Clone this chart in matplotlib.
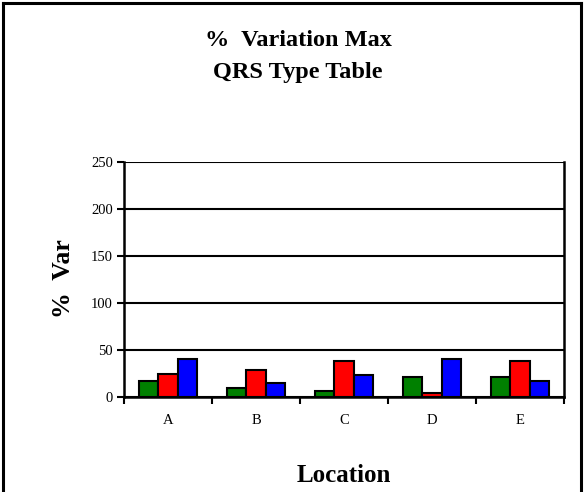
import matplotlib
matplotlib.use("Agg")
import matplotlib.pyplot as plt
from matplotlib.lines import Line2D
import numpy as np

plt.rcParams['font.family'] = ['Liberation Serif', 'DejaVu Serif']

locations = ["A", "B", "C", "D", "E"]
series_green = [17, 10, 6, 21, 21]
series_red = [25, 29, 38, 4, 38]
series_blue = [40, 14.5, 23, 40, 17]
y_ticks = [0, 50, 100, 150, 200, 250]

W, H = 584, 492
fig = plt.figure(figsize=(W / 100, H / 100), dpi=100)

# chart frame (open at the bottom edge)
for xs, ys in [([3, 3], [0, H - 3]), ([3, W - 3], [H - 3, H - 3]), ([W - 3, W - 3], [H - 3, 0])]:
    fig.add_artist(Line2D(np.array(xs) / W, np.array(ys) / H, color='black', lw=2.2,
                          transform=fig.transFigure))

left, right, bottom, top = 124, 564, 397, 162
ax = fig.add_axes([left / W, 1 - bottom / H, (right - left) / W, (bottom - top) / H])

x = np.arange(len(locations))
bw = 1 / 4.5
colors = ['#008000', '#ff0000', '#0000ff']
for i, (vals, c) in enumerate(zip([series_green, series_red, series_blue], colors)):
    ax.bar(x + (i - 1) * bw, vals, width=bw, color=c, edgecolor='black', linewidth=1.5, zorder=3)

ax.set_xlim(-0.5, len(locations) - 0.5)
ax.set_ylim(0, 250)
ax.set_yticks(y_ticks)
ax.set_yticklabels([str(t) for t in y_ticks], fontsize=10.5)
ax.yaxis.grid(True, color='black', lw=1.5, zorder=1)

ax.set_xticks(x)
ax.set_xticklabels(locations, fontsize=10.5)
ax.set_xticks(np.arange(-0.5, len(locations)), minor=True)
ax.tick_params(axis='x', which='major', length=0, pad=12)
ax.tick_params(axis='x', which='minor', length=5, width=1.5, direction='out')
ax.tick_params(axis='y', length=5, width=1.5, direction='out', pad=3)

for s in ['left', 'bottom', 'right']:
    ax.spines[s].set_linewidth(1.8)
ax.spines['top'].set_visible(False)

fig.text(298 / W, 1 - 46 / H, "%  Variation Max", ha='center', va='baseline',
         fontsize=17.5, fontweight='bold')
fig.text(298 / W, 1 - 78 / H, "QRS Type Table", ha='center', va='baseline',
         fontsize=17.5, fontweight='bold')

fig.text(344 / W, 1 - 482 / H, "Location", ha='center', va='baseline',
         fontsize=18, fontweight='bold')
fig.text(64 / W, 1 - 279 / H, "%  Var", ha='center', va='center', rotation=90,
         fontsize=18.5, fontweight='bold')

fig.savefig("out.png", dpi=100)
